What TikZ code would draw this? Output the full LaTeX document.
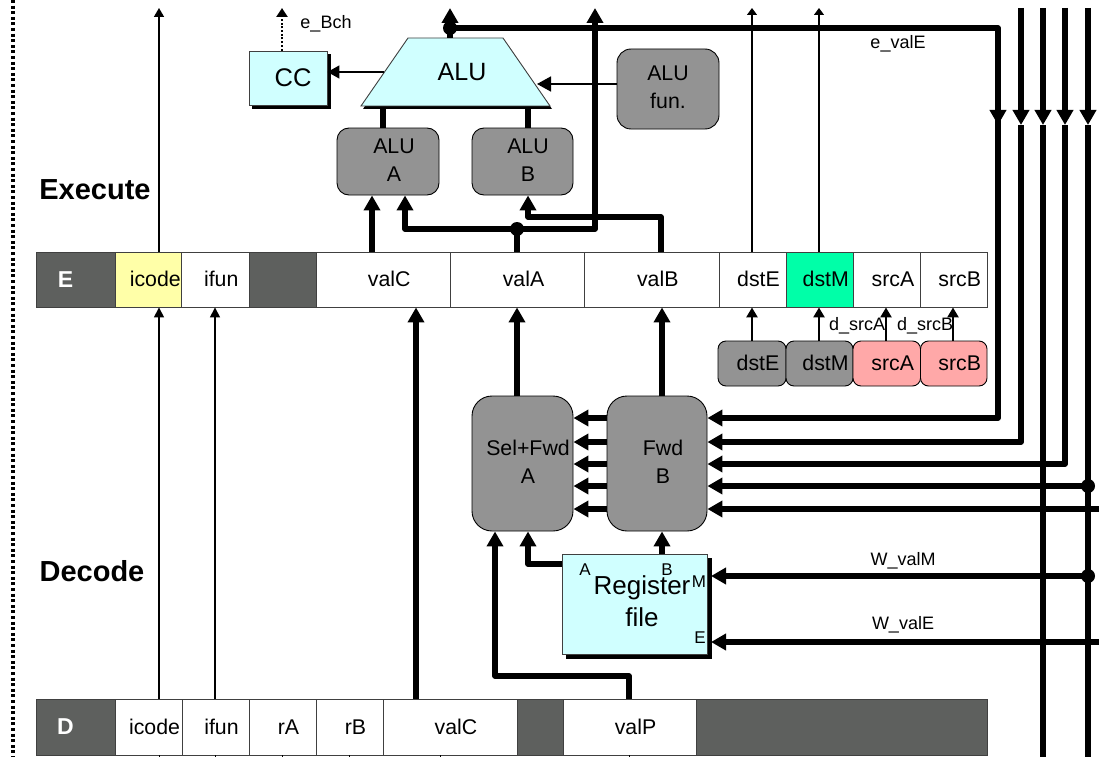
\documentclass[tikz,border=0pt]{standalone}
\usepackage{fontspec}
\setmainfont{Liberation Sans}
\usetikzlibrary{arrows.meta,shapes.geometric,shadows}
\definecolor{graybox}{HTML}{939393}
\definecolor{darkcell}{HTML}{5E605E}
\definecolor{cyanbox}{HTML}{D0FFFF}
\definecolor{pinkbox}{HTML}{FFA8A8}
\definecolor{yellowcell}{HTML}{FFFFA8}
\definecolor{greencell}{HTML}{00FFA8}
\newcommand\sft[2]{\hspace*{#1pt}#2}
\newcommand\twol[3]{\hspace*{#1pt}\begin{tabular}{@{}c@{}}#2\\#3\end{tabular}}
\newcommand\boxnode[7]{\node[#6,minimum width={(#3-#2)*1pt},minimum height={(#5-#4)*1pt}] (#1) at ({(#2+#3)/2},{(#4+#5)/2}) {#7};}
\tikzset{
  x=1pt,y=-1pt,
  cellbox/.style={draw=black!75,line width=0.9pt,inner sep=0pt,fill=white,font=\fontsize{21.3}{24}\selectfont,text height=14.5pt,text depth=0pt},
  darkbox/.style={cellbox,fill=darkcell,text=white,font=\fontsize{23}{24}\selectfont\bfseries,text height=15.5pt},
  srcbox/.style={draw=black,line width=0.9pt,rounded corners=8pt,inner sep=0pt,font=\fontsize{21.3}{24}\selectfont,text height=14.5pt,text depth=0pt},
  mux/.style={draw=black,line width=0.9pt,fill=graybox,inner sep=0pt,font=\fontsize{21.3}{28}\selectfont},
  muxsmall/.style={mux,rounded corners=12pt},
  muxbig/.style={mux,rounded corners=20pt},
  hwbox/.style={draw=black!75,line width=0.9pt,fill=cyanbox,inner sep=0pt},
  lbl/.style={inner sep=0pt,font=\fontsize{18}{20}\selectfont},
  stage/.style={inner sep=0pt,font=\fontsize{29}{30}\selectfont\bfseries},
  port/.style={inner sep=0pt,font=\fontsize{17}{18}\selectfont},
  dot/.style={circle,fill=black,inner sep=0pt,minimum size=14pt},
  bus/.style={line width=5.5pt,-{Triangle[length=15pt,width=16pt]},line join=round},
  busplain/.style={line width=5.5pt,line join=round},
  medium/.style={line width=2.5pt,-{Triangle[length=10pt,width=11pt]}},
  thinline/.style={line width=1.6pt,-{Triangle[length=9pt,width=10pt]}},
  hair/.style={line width=1.2pt,-{Triangle[length=7pt,width=10pt]}},
  tick/.style={line width=1pt},
}
\begin{document}
\begin{tikzpicture}
\useasboundingbox (0,0) rectangle (1099,757);
\fill[white] (0,0) rectangle (1099,757);
% free ends
\coordinate (dottop) at (13,0);
\coordinate (dotbot) at (13,757);
\draw[line width=3.2pt,dash pattern=on 3pt off 2.6pt] (dottop) -- (dotbot);
% stage labels
\node[stage] (execlabel) at (95,190) {Execute};
\node[stage] (declabel) at (92,571) {Decode};
% E row
\boxnode{Ename}{36}{115}{252}{307}{darkbox}{E\hspace*{20pt}}
\boxnode{Eicode}{115}{181.5}{252}{307}{cellbox,fill=yellowcell}{\sft{14}{icode}}
\boxnode{Eifun}{181.5}{249}{252}{307}{cellbox}{\sft{12}{ifun}}
\boxnode{Egap}{249}{316}{252}{307}{darkbox}{}
\boxnode{EvalC}{316}{450.5}{252}{307}{cellbox}{\sft{12}{valC}}
\boxnode{EvalA}{450.5}{584.5}{252}{307}{cellbox}{\sft{12}{valA}}
\boxnode{EvalB}{584.5}{719}{252}{307}{cellbox}{\sft{12}{valB}}
\boxnode{EdstE}{719}{786}{252}{307}{cellbox}{\sft{12}{dstE}}
\boxnode{EdstM}{786}{853.5}{252}{307}{cellbox,fill=greencell}{\sft{12}{dstM}}
\boxnode{EsrcA}{853.5}{920.5}{252}{307}{cellbox}{\sft{12}{srcA}}
\boxnode{EsrcB}{920.5}{987}{252}{307}{cellbox}{\sft{12}{srcB}}
% D row
\boxnode{Dname}{36}{115}{699}{755}{darkbox}{D\hspace*{20pt}}
\boxnode{Dicode}{115}{182}{699}{755}{cellbox}{\sft{12}{icode}}
\boxnode{Difun}{182}{249}{699}{755}{cellbox}{\sft{12}{ifun}}
\boxnode{DrA}{249}{316}{699}{755}{cellbox}{\sft{12}{rA}}
\boxnode{DrB}{316}{383}{699}{755}{cellbox}{\sft{12}{rB}}
\boxnode{DvalC}{383}{517}{699}{755}{cellbox}{\sft{12}{valC}}
\boxnode{Dgapa}{517}{563}{699}{755}{darkbox}{}
\boxnode{DvalP}{563}{696}{699}{755}{cellbox}{\sft{12}{valP}}
\boxnode{Dgapb}{696}{987}{699}{755}{darkbox}{}
% source boxes
\boxnode{SdstE}{718}{786}{341}{386}{srcbox,fill=graybox}{\sft{12}{dstE}}
\boxnode{SdstM}{786}{853}{341}{386}{srcbox,fill=graybox}{\sft{12}{dstM}}
\boxnode{SsrcA}{853}{920.5}{341}{386}{srcbox,fill=pinkbox}{\sft{12}{srcA}}
\boxnode{SsrcB}{920.5}{987}{341}{386}{srcbox,fill=pinkbox}{\sft{12}{srcB}}
% execute hardware
\boxnode{CC}{249}{327}{51}{105}{hwbox,copy shadow={shadow xshift=3pt,shadow yshift=-3pt,fill=black,draw=black},font=\fontsize{25.5}{28}\selectfont,text height=18pt,text depth=0pt}{\sft{10}{CC}}
\fill[black] (410,41) -- (505,41) -- (552,109) -- (363,109) -- cycle;
\draw[draw=black!75,line width=0.9pt,fill=cyanbox] (408,38) -- (503,38) -- (550,106) -- (361,106) -- cycle;
\node[inner sep=0pt,font=\fontsize{25}{28}\selectfont] (ALU) at (462,72) {ALU};
\boxnode{ALUA}{337}{439}{128}{195}{muxsmall}{\twol{12}{ALU}{A}}
\boxnode{ALUB}{472}{573}{128}{195}{muxsmall}{\twol{11}{ALU}{B}}
\boxnode{ALUfun}{617}{719}{49}{129}{muxsmall,rounded corners=14pt}{\twol{0}{ALU}{fun.}}
% decode hardware
\boxnode{SelA}{472}{573}{396}{531}{muxbig}{\twol{11}{Sel+Fwd}{A}}
\boxnode{FwdB}{607}{707}{396}{531}{muxbig}{\twol{12}{Fwd}{B}}
\boxnode{RF}{562}{707}{554}{654}{hwbox,copy shadow={shadow xshift=4pt,shadow yshift=-4pt,fill=black,draw=black},font=\fontsize{26}{32}\selectfont}{\twol{15}{Register}{file}}
\node[port] (portA) at (585,570) {A};
\node[port] (portB) at (667,570) {B};
\node[port] (portM) at (699,582) {M};
\node[port] (portE) at (700,638) {E};
% junctions
\node[dot] (jalu) at (450,28) {};
\node[dot] (jvalA) at (517,229) {};
\node[dot] (jmem) at (1088,486) {};
\node[dot] (jwb) at (1088,576) {};
% labels
\node[lbl] (lEBch) at (326,24) {e\_Bch};
\node[lbl] (lEvalE) at (898,44) {e\_valE};
\node[lbl] (lWvalM) at (903,561) {W\_valM};
\node[lbl] (lWvalE) at (903,625) {W\_valE};
\node[lbl] (ldA) at (857,326) {d\_srcA};
\node[lbl] (ldB) at (925,326) {d\_srcB};
% thin up lines
\coordinate (t159) at (159,8);
\coordinate (t752) at (752,8);
\coordinate (t819) at (819,8);
\coordinate (t282) at (282,8);
\draw[thinline] (159,0 |- Eicode.north) -- (t159);
\draw[hair] (752,0 |- EdstE.north) -- (t752);
\draw[hair] (819,0 |- EdstM.north) -- (t819);
\draw[line width=2.7pt,dash pattern=on 2pt off 1.7pt,-{Triangle[length=9pt,width=11pt]}] (282,0 |- CC.north) -- (t282);
% ALU connections
\draw[thinline,-{Triangle[length=12pt,width=13pt]}] (384,72) -- (CC.east |- 0,72);
\draw[thinline,-{Triangle[length=14pt,width=15pt]}] (ALUfun.west |- 0,84) -- (537,84);
\draw[busplain] (383,0 |- ALUA.north) -- (383,107);
\draw[busplain] (528,0 |- ALUB.north) -- (528,107);
\coordinate (t450) at (450,8);
\draw[bus] (450,38) -- (t450);
\coordinate (t595) at (595,8);
\coordinate (c595) at (595,229);
\draw[bus] (jvalA.center) -- (c595) -- (t595);
\draw[bus] (jvalA.center) -- (405,229) -- (405,0 |- ALUA.south);
\draw[bus] (372,0 |- EvalC.north) -- (372,0 |- ALUA.south);
\draw[busplain] (517,0 |- EvalA.north) -- (jvalA.center);
\draw[bus] (661,0 |- EvalB.north) -- (661,217) -- (528,217) -- (528,0 |- ALUB.south);
% e_valE and forwarding buses
\coordinate (c998) at (998,28);
\coordinate (m998) at (998,125);
\draw[busplain] (jalu.center) -- (c998) -- (m998);
\draw[bus] (998,105) -- (m998);
\draw[busplain] (m998) -- (998,418) -- (720,418);
\draw[bus] (720,418) -- (FwdB.east |- 0,418);
\foreach \x/\nm in {1021/a,1043/b,1065/c,1088/d}{
  \coordinate (top\nm) at (\x,8);
  \coordinate (mid\nm) at (\x,125);
  \draw[bus] (top\nm) -- (mid\nm);
}
\draw[bus] (mida) -- (1021,442) -- (FwdB.east |- 0,442);
\draw[bus] (midc) -- (1065,464) -- (FwdB.east |- 0,464);
\coordinate (botb) at (1043,757);
\coordinate (botd) at (1088,757);
\draw[busplain] (midb) -- (botb);
\draw[busplain] (midd) -- (botd);
\draw[bus] (jmem.center) -- (FwdB.east |- 0,486);
\coordinate (r509) at (1099,509);
\coordinate (r642) at (1099,642);
\draw[bus] (r509) -- (FwdB.east |- 0,509);
\draw[bus] (jwb.center) -- (711,576);
\draw[bus] (r642) -- (711,642);
\foreach \y in {418,442,464,486,509}{
  \draw[bus] (FwdB.west |- 0,\y) -- (SelA.east |- 0,\y);
}
% decode to execute
\draw[bus] (517,0 |- SelA.north) -- (517,0 |- EvalA.south);
\draw[bus] (662,0 |- FwdB.north) -- (662,0 |- EvalB.south);
\draw[bus] (662,0 |- RF.north) -- (662,0 |- FwdB.south);
\draw[bus] (RF.west |- 0,564) -- (528,564) -- (528,0 |- SelA.south);
\draw[bus] (629,0 |- DvalP.north) -- (629,676) -- (495,676) -- (495,0 |- SelA.south);
\draw[bus] (416,0 |- DvalC.north) -- (416,0 |- EvalC.south);
\draw[thinline,-{Triangle[length=10pt,width=10pt]}] (159,0 |- Dicode.north) -- (159,0 |- Eicode.south);
\draw[thinline,-{Triangle[length=10pt,width=10pt]}] (215,0 |- Difun.north) -- (215,0 |- Eifun.south);
\draw[medium] (752,0 |- SdstE.north) -- (752,0 |- EdstE.south);
\draw[medium] (819,0 |- SdstM.north) -- (819,0 |- EdstM.south);
\draw[medium] (886,0 |- SsrcA.north) -- (886,0 |- EsrcA.south);
\draw[medium] (953,0 |- SsrcB.north) -- (953,0 |- EsrcB.south);
% ticks under D row
\foreach \x/\nm in {159/Dicode,215/Difun,282/DrA,349/DrB,440/DvalC,629/DvalP}{
  \coordinate (tk\nm) at (\x,757);
  \draw[tick] (\x,0 |- \nm.south) -- (tk\nm);
}
\end{tikzpicture}
\end{document}
